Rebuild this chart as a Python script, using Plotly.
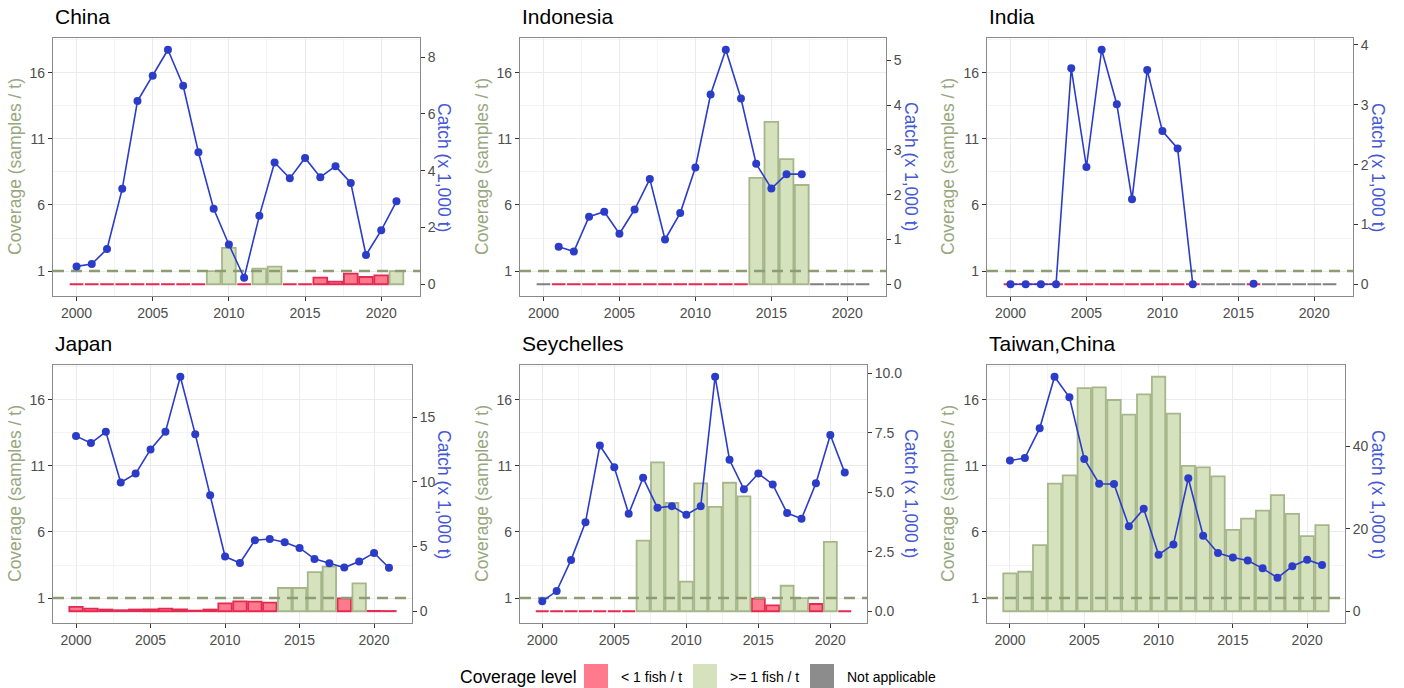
import plotly.graph_objects as go

# ---------------- data ----------------
years = list(range(2000, 2022))
countries = ["China", "Indonesia", "India", "Japan", "Seychelles", "Taiwan,China"]

# sampling coverage (samples / t); None = not applicable
cov_china = [0, 0, 0, 0, 0, 0, 0, 0, 0, 1.0, 2.76, 0, 1.18, 1.33, 0, 0,
             0.5, 0.2, 0.8, 0.55, 0.68, 1.0]
cov_indonesia = [None] + [0] * 13 + [8.04, 12.29, 9.47, 7.51] + [None] * 4
cov_india = [0] * 13 + [None] * 3 + [0] + [None] * 5
cov_japan = [0.33, 0.2, 0.13, 0.08, 0.13, 0.15, 0.2, 0.15, 0.05, 0.13, 0.6,
             0.75, 0.73, 0.65, 1.76, 1.76, 2.96, 3.37, 0.97, 2.11, 0.03, 0.02]
cov_seychelles = [0] * 7 + [5.35, 11.26, 8.19, 2.24, 9.67, 7.89, 9.72, 8.69,
                            0.95, 0.45, 1.93, 1.0, 0.55, 5.25, 0]
cov_taiwan = [2.86, 2.99, 5.0, 9.65, 10.28, 16.88, 16.93, 15.98, 14.87, 16.41,
              17.74, 14.95, 11.0, 10.88, 10.2, 6.16, 7.01, 7.61, 8.79, 7.36,
              5.68, 6.51]

# catch (x 1,000 t)
catch_china = [0.63, 0.71, 1.24, 3.36, 6.45, 7.34, 8.26, 6.99, 4.65, 2.66, 1.40,
               0.23, 2.41, 4.29, 3.73, 4.45, 3.77, 4.16, 3.57, 1.03, 1.90, 2.92]
catch_indonesia = [None, 0.84, 0.73, 1.51, 1.62, 1.13, 1.67, 2.35, 1.00, 1.59,
                   2.61, 4.24, 5.24, 4.15, 2.69, 2.14, 2.46, 2.46,
                   None, None, None, None]
catch_india = [0, 0, 0, 0, 3.61, 1.96, 3.92, 3.01, 1.42, 3.58, 2.56, 2.27, 0,
               None, None, None, 0.01, None, None, None, None, None]
catch_japan = [13.54, 13.0, 13.87, 9.95, 10.64, 12.51, 13.87, 18.13, 13.69,
               8.97, 4.23, 3.74, 5.49, 5.59, 5.33, 4.90, 4.05, 3.72, 3.38,
               3.85, 4.51, 3.36]
catch_seychelles = [0.42, 0.85, 2.16, 3.74, 6.97, 6.05, 4.10, 5.61, 4.35, 4.42,
                    4.06, 4.41, 9.86, 6.37, 5.13, 5.79, 5.33, 4.13, 3.89, 5.38,
                    7.41, 5.83]
catch_taiwan = [36.5, 37.1, 44.3, 56.8, 51.8, 36.9, 30.9, 30.8, 20.6, 24.8,
                13.7, 16.2, 32.2, 18.3, 14.1, 13.0, 12.3, 10.4, 8.1, 10.9,
                12.5, 11.2]

coverage = [cov_china, cov_indonesia, cov_india, cov_japan, cov_seychelles, cov_taiwan]
catch = [catch_china, catch_indonesia, catch_india, catch_japan, catch_seychelles, catch_taiwan]

# axis tick labels
x_ticks = [2000, 2005, 2010, 2015, 2020]
cov_ticks = [1, 6, 11, 16]
catch_ticks = [
    [0, 2, 4, 6, 8],
    [0, 1, 2, 3, 4, 5],
    [0, 1, 2, 3, 4],
    [0, 5, 10, 15],
    [0.0, 2.5, 5.0, 7.5, 10.0],
    [0, 20, 40],
]
catch_ticktext = [
    ["0", "2", "4", "6", "8"],
    ["0", "1", "2", "3", "4", "5"],
    ["0", "1", "2", "3", "4"],
    ["0", "5", "10", "15"],
    ["0.0", "2.5", "5.0", "7.5", "10.0"],
    ["0", "20", "40"],
]

levels = ["< 1 fish / t", ">= 1 fish / t", "Not applicable"]
threshold = 1

# ---------------- styling ----------------
W, H = 1404, 688
FONT = "Liberation Sans, Arial, sans-serif"
fill = {levels[0]: "#FF7A8C", levels[1]: "#D6E2BD", levels[2]: "#8C8C8C"}
edge = {levels[0]: "#E52A52", levels[1]: "#A6B68B", levels[2]: "#808080"}
BLUE = "#2B3CC9"
OLIVE = "#8E9C74"
TICK_GREY = "#4D4D4D"

# panel boxes in pixels: (left, right, top, bottom)
panels = [
    (53, 420, 38, 296), (520, 886, 38, 296), (987, 1353, 38, 296),
    (53, 412, 365, 623), (520, 867, 365, 623), (987, 1345, 365, 623),
]
left_title_x = [15, 482, 948, 15, 482, 948]
right_title_x = [444, 911, 1378, 444, 911, 1378]

bar_width = 0.9
x_lo = min(years) - bar_width / 2
x_hi = max(years) + bar_width / 2
x_pad = 0.05 * (x_hi - x_lo)
x_range = [x_lo - x_pad, x_hi + x_pad]

cov_max = max(v for c in coverage for v in c if v is not None)
cov_range = [-0.05 * cov_max, 1.05 * cov_max]


def level_of(v):
    if v is None:
        return levels[2]
    return levels[0] if v < threshold else levels[1]


fig = go.Figure()
layout = dict(
    width=W, height=H, margin=dict(l=0, r=0, t=0, b=0),
    paper_bgcolor="white", plot_bgcolor="white",
    barmode="overlay", showlegend=False,
    font=dict(family=FONT, size=14, color=TICK_GREY),
)
annotations = []
shapes = []

for p, name in enumerate(countries):
    xi = p + 1
    yl = 2 * p + 1
    yr = 2 * p + 2
    xref = "x" if xi == 1 else f"x{xi}"
    ylref = "y" if yl == 1 else f"y{yl}"
    yrref = f"y{yr}"
    l, r, t, b = panels[p]
    xdom = [l / W, r / W]
    ydom = [1 - b / H, 1 - t / H]

    cov = coverage[p]
    lv = [level_of(v) for v in cov]
    for lev in levels:
        xs = [yr_ for yr_, g in zip(years, lv) if g == lev]
        ys = [(v if v is not None else 0) for v, g in zip(cov, lv) if g == lev]
        if not xs:
            continue
        fig.add_trace(go.Bar(
            x=xs, y=ys, width=bar_width, xaxis=xref, yaxis=ylref,
            marker=dict(color=fill[lev], line=dict(color=edge[lev], width=1.8)),
            name=lev, hoverinfo="x+y",
        ))

    # reference line at 1 sample per tonne
    fig.add_trace(go.Scatter(
        x=x_range, y=[threshold, threshold], mode="lines", xaxis=xref, yaxis=ylref,
        line=dict(color=OLIVE, width=2.5, dash="11px,7px"), hoverinfo="skip",
    ))

    # catch series on the secondary axis
    fig.add_trace(go.Scatter(
        x=years, y=catch[p], mode="lines+markers", xaxis=xref, yaxis=yrref,
        line=dict(color=BLUE, width=1.6), marker=dict(color=BLUE, size=8),
        connectgaps=False, name="Catch",
    ))

    cmax = max(v for v in catch[p] if v is not None)
    c_range = [-0.05 * cmax, 1.05 * cmax]

    common_tick = dict(ticks="outside", ticklen=4, tickwidth=1.1, tickcolor="#333333",
                       tickfont=dict(family=FONT, size=14, color=TICK_GREY))

    layout[f"xaxis{xi}"] = dict(
        domain=xdom, anchor=ylref, range=x_range, tickvals=x_ticks,
        showgrid=True, gridcolor="#EBEBEB", gridwidth=1.2,
        minor=dict(dtick=2.5, tick0=1997.5, showgrid=True, gridcolor="#F4F4F4", gridwidth=0.7),
        showline=True, mirror=True, linecolor="#8A8A8A", linewidth=1.2,
        zeroline=False, **common_tick,
    )
    layout[f"yaxis{yl}"] = dict(
        domain=ydom, anchor=xref, range=cov_range, tickvals=cov_ticks,
        showgrid=True, gridcolor="#EBEBEB", gridwidth=1.2,
        minor=dict(dtick=2.5, tick0=1, showgrid=True, gridcolor="#F4F4F4", gridwidth=0.7),
        showline=True, mirror=True, linecolor="#8A8A8A", linewidth=1.2,
        zeroline=False, **common_tick,
    )
    layout[f"yaxis{yr}"] = dict(
        overlaying=ylref, anchor=xref, side="right", range=c_range,
        tickvals=catch_ticks[p], ticktext=catch_ticktext[p],
        showgrid=False, zeroline=False, showline=False, **common_tick,
    )

    # panel title and axis titles
    annotations.append(dict(
        text=name, x=l / W, y=1 - (t - 21.5) / H, xref="paper", yref="paper",
        xanchor="left", yanchor="middle", showarrow=False,
        font=dict(family=FONT, size=21, color="black"),
    ))
    annotations.append(dict(
        text="Coverage (samples / t)", x=left_title_x[p] / W, y=1 - ((t + b) / 2) / H,
        xref="paper", yref="paper", xanchor="center", yanchor="middle",
        textangle=-90, showarrow=False,
        font=dict(family=FONT, size=17.5, color="#97A77E"),
    ))
    annotations.append(dict(
        text="Catch (x 1,000 t)", x=right_title_x[p] / W, y=1 - ((t + b) / 2) / H,
        xref="paper", yref="paper", xanchor="center", yanchor="middle",
        textangle=90, showarrow=False,
        font=dict(family=FONT, size=17.5, color="#4558D4"),
    ))

# ---------------- legend ----------------
legend_y = 677
annotations.append(dict(
    text="Coverage level", x=458 / W, y=1 - legend_y / H, xref="paper", yref="paper",
    xanchor="left", yanchor="middle", showarrow=False,
    font=dict(family=FONT, size=17.5, color="black"),
))
key_left = [584, 693, 810]
for lev, kx in zip(levels, key_left):
    shapes.append(dict(
        type="rect", xref="paper", yref="paper",
        x0=kx / W, x1=(kx + 24) / W, y0=1 - 688 / H, y1=1 - 664 / H,
        fillcolor=fill[lev], line=dict(width=0), layer="above",
    ))
    annotations.append(dict(
        text=lev, x=(kx + 35) / W, y=1 - legend_y / H, xref="paper", yref="paper",
        xanchor="left", yanchor="middle", showarrow=False,
        font=dict(family=FONT, size=14, color="black"),
    ))

layout["annotations"] = annotations
layout["shapes"] = shapes
fig.update_layout(**layout)
fig.write_html("out.html")
